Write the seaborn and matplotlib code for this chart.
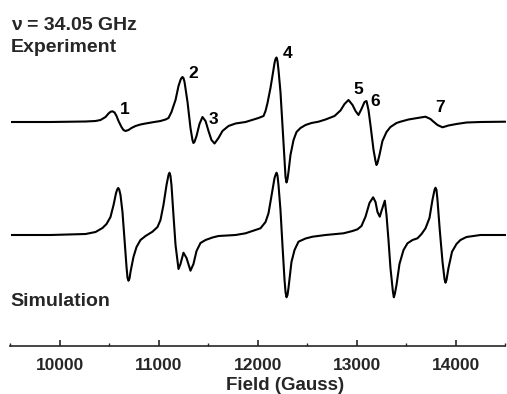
import matplotlib
matplotlib.use("Agg")
import matplotlib.pyplot as plt
import seaborn as sns
import pandas as pd
from matplotlib.ticker import MultipleLocator

# ---- data (field in Gauss, intensity in arbitrary units) ----
exp_field = [9500, 9904, 10258, 10359, 10409, 10460, 10490, 10510, 10530, 10551, 10571,
             10591, 10621, 10641, 10662, 10692, 10722, 10763, 10813, 10864, 10934, 11015,
             11066, 11096, 11126, 11146, 11167, 11197, 11217, 11227, 11237, 11247, 11258,
             11288, 11318, 11338, 11348, 11358, 11379, 11409, 11439, 11470, 11500, 11530,
             11561, 11601, 11641, 11702, 11773, 11874, 12005, 12056, 12076, 12096, 12126,
             12146, 12167, 12177, 12187, 12197, 12207, 12227, 12247, 12268, 12278, 12288,
             12298, 12308, 12328, 12359, 12389, 12429, 12480, 12540, 12611, 12682, 12773,
             12833, 12874, 12914, 12955, 12985, 13015, 13045, 13076, 13096, 13116, 13136,
             13167, 13187, 13197, 13207, 13227, 13257, 13298, 13338, 13399, 13439, 13520,
             13611, 13692, 13742, 13773, 13813, 13864, 13924, 14005, 14106, 14247, 14500]
exp_signal = [0, 0, 0.5, 1, 2, 5, 8.5, 10.2, 10.7, 9.5, 6,
              1, -5, -8, -9, -8, -6, -4, -2.5, -1.5, -0.3, 1,
              2.5, 4, 10, 16, 22, 36, 42, 44, 45, 44, 40,
              20, -6, -18, -21, -20, -14, -2, 5, 1, -9, -18,
              -21.5, -16, -9, -4, -1.5, 0, 4, 6, 11, 19, 34,
              46, 59, 63, 64.5, 61, 52, 30, -3, -38, -55, -60.5,
              -57, -50, -33, -18, -10, -6, -3, -1, 0.3, 2.5, 6,
              11.5, 18, 22, 17, 11, 7, 13, 20, 21, 12, -3,
              -28, -39, -43, -41, -33, -19, -10, -5, -1, 0.3, 2.5,
              4, 5.3, 3, 0.3, -3, -5.3, -3.5, -2, -0.5, 0, 0.3]

sim_field = [9500, 9904, 10258, 10359, 10429, 10470, 10510, 10541, 10566, 10578, 10588,
             10598, 10611, 10631, 10652, 10672, 10682, 10692, 10702, 10712, 10742, 10773,
             10813, 10864, 10934, 10985, 11015, 11045, 11076, 11096, 11106, 11116, 11126,
             11146, 11167, 11197, 11217, 11247, 11278, 11318, 11348, 11379, 11419, 11470,
             11540, 11601, 11773, 11874, 12025, 12076, 12106, 12136, 12167, 12177, 12187,
             12197, 12207, 12227, 12247, 12268, 12278, 12288, 12298, 12308, 12338, 12369,
             12409, 12480, 12551, 12682, 12864, 12955, 13005, 13045, 13086, 13126, 13163,
             13187, 13207, 13230, 13247, 13281, 13298, 13318, 13338, 13362, 13372, 13382,
             13399, 13429, 13470, 13510, 13561, 13611, 13652, 13692, 13732, 13762, 13783,
             13793, 13803, 13813, 13836, 13864, 13884, 13894, 13904, 13924, 13960, 14005,
             14045, 14106, 14247, 14500]
sim_signal = [0, 0, 1, 3, 7, 11, 18, 30, 42, 45.5, 47,
              45.5, 40, 23, -5, -32, -43, -45.7, -43.5, -37, -22, -12,
              -5, -1, 3.3, 8, 15, 30, 50, 60, 62.3, 59, 50,
              20, -10, -34, -29, -17.7, -23, -35.7, -29, -16, -8, -5,
              -2.5, -1, 0, 1.7, 6.7, 13, 21.7, 39, 57, 60, 62.3,
              59.5, 50, 25, -10, -45, -57, -62.3, -60, -53, -27, -15,
              -6.7, -3.5, -1.7, 0, 1.7, 4, 5.7, 9, 18.3, 32, 37.7,
              33, 23, 18.3, 24, 34.3, 20, -5, -33, -56, -62.3, -59,
              -50, -29, -15, -8.3, -5, -3.3, 1, 6.7, 17, 35, 45,
              47.3, 45, 35, 5, -27, -44, -47.7, -45, -33, -16.7, -9,
              -5, -2, 0, 0]

peak_labels = ["1", "2", "3", "4", "5", "6", "7"]
peak_label_field = [10652, 11348, 11550, 12298, 13015, 13187, 13843]
peak_label_height = [12, 49, 3, 69, 32, 21, 14]

major_ticks = [10000, 11000, 12000, 13000, 14000]
x_label = "Field (Gauss)"
freq_text = "\u03bd = 34.05 GHz"
exp_text = "Experiment"
sim_text = "Simulation"

# ---- layout / style ----
EXP_OFFSET = 223.7
SIM_OFFSET = 110.7

sns.set_style("ticks")
plt.rcParams["font.family"] = ["Liberation Sans", "DejaVu Sans"]
plt.rcParams["font.weight"] = "bold"

W, H = 507, 394
fig = plt.figure(figsize=(W / 100, H / 100), dpi=100)
ax = fig.add_axes([10.5 / W, 48.3 / H, 495 / W, 345.7 / H])

df = pd.concat([
    pd.DataFrame({"field": exp_field, "y": [v + EXP_OFFSET for v in exp_signal], "trace": "Experiment"}),
    pd.DataFrame({"field": sim_field, "y": [v + SIM_OFFSET for v in sim_signal], "trace": "Simulation"}),
])
sns.lineplot(data=df, x="field", y="y", units="trace", estimator=None, sort=False,
             color="black", linewidth=1.5, ax=ax, legend=False)
for ln in ax.get_lines():
    ln.set_solid_joinstyle("round")

for lab, f, h in zip(peak_labels, peak_label_field, peak_label_height):
    ax.text(f, EXP_OFFSET + h, lab, ha="center", va="center", fontsize=12.5,
            fontweight="bold", color="black")

ax.set_xlim(9500, 14500)
ax.set_ylim(0, 345.7)
ax.set_xticks(major_ticks)
ax.set_xticklabels([str(t) for t in major_ticks])
ax.xaxis.set_minor_locator(MultipleLocator(500))
ax.tick_params(axis="x", which="major", direction="in", length=4.5, width=1.2,
               labelsize=12.5, pad=8.5)
ax.tick_params(axis="x", which="minor", direction="in", length=2.5, width=1.0)
ax.set_yticks([])
ax.set_ylabel("")
ax.set_xlabel(x_label, fontsize=13.5, fontweight="bold")
ax.xaxis.set_label_coords((285 - 10.5) / 495, -39.5 / 345.7)
ax.xaxis.label.set_va("center")
for s in ["left", "right", "top"]:
    ax.spines[s].set_visible(False)
ax.spines["bottom"].set_linewidth(1.2)
ax.patch.set_alpha(0)

fig.text(11 / W, 1 - 30.5 / H, freq_text, fontsize=14, fontweight="bold", va="baseline")
fig.text(11 / W, 1 - 52 / H, exp_text, fontsize=14, fontweight="bold", va="baseline")
fig.text(10 / W, 1 - 305.5 / H, sim_text, fontsize=14, fontweight="bold", va="baseline")

fig.savefig("out.png", dpi=100)
